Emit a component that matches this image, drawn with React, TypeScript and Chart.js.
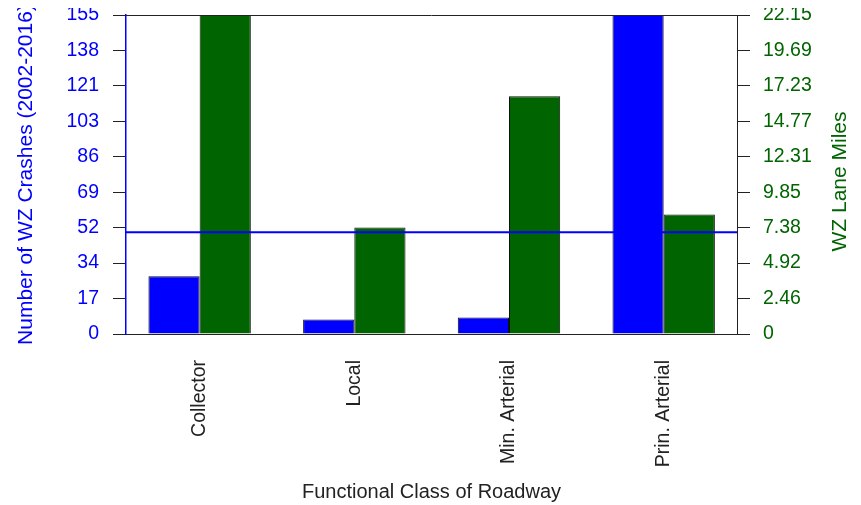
import { useEffect, useRef } from "react";
import { Chart, registerables } from "chart.js";

Chart.register(...registerables);

const CATEGORIES = ["Collector", "Local", "Min. Arterial", "Prin. Arterial"];
const CRASHES = [28, 7, 8, 155];
const LANE_MILES = [22.15, 7.4, 16.5, 8.3];
const MEAN_CRASHES = 49.5;
const CRASH_MAX = 155;
const MILES_MAX = 22.15;
const CRASH_TICKS = ["0", "17", "34", "52", "69", "86", "103", "121", "138", "155"];
const MILES_TICKS = ["0", "2.46", "4.92", "7.38", "9.85", "12.31", "14.77", "17.23", "19.69", "22.15"];
const X_TITLE = "Functional Class of Roadway";
const Y_LEFT_TITLE = "Number of WZ Crashes (2002-2016)";
const Y_RIGHT_TITLE = "WZ Lane Miles";

const FONT = '"Liberation Sans", Arial, sans-serif';
const BLUE = "#0000FF";
const GREEN = "#006400";
const DARK = "#222222";

const extrasPlugin = {
  id: "extras",
  afterLayout(chart: any) {
    const xs = chart.scales.x;
    if (xs) {
      xs._startValue = -0.476;
      xs._valueRange = 3.95;
    }
  },
  afterDatasetsDraw(chart: any) {
    const { ctx, chartArea } = chart;
    const ys = chart.scales.y;
    ctx.save();
    ctx.strokeStyle = DARK;
    ctx.lineWidth = 1;
    ctx.beginPath();
    ctx.moveTo(chartArea.left, chartArea.top + 0.5);
    ctx.lineTo(chartArea.right, chartArea.top + 0.5);
    ctx.stroke();
    const y = ys.getPixelForValue(MEAN_CRASHES);
    ctx.strokeStyle = BLUE;
    ctx.lineWidth = 2;
    ctx.beginPath();
    ctx.moveTo(chartArea.left, y);
    ctx.lineTo(chartArea.right, y);
    ctx.stroke();
    ctx.restore();
  },
  afterDraw(chart: any) {
    const { ctx, chartArea } = chart;
    ctx.save();
    ctx.font = `21px ${FONT}`;
    ctx.fillStyle = GREEN;
    ctx.translate(chart.width - 12.5, (chartArea.top + chartArea.bottom) / 2 + 7);
    ctx.rotate(-Math.PI / 2);
    ctx.textAlign = "center";
    ctx.textBaseline = "middle";
    ctx.fillText(Y_RIGHT_TITLE, 0, 0);
    ctx.restore();
  },
};

export default function App() {
  const ref = useRef<HTMLCanvasElement>(null);

  useEffect(() => {
    if (!ref.current) return;
    const tickFont = { family: FONT, size: 19.5 };
    const chart = new Chart(ref.current, {
      type: "bar",
      data: {
        labels: CATEGORIES,
        datasets: [
          {
            label: "WZ Crashes",
            data: CRASHES,
            yAxisID: "y",
            backgroundColor: BLUE,
            borderColor: "#111111",
            borderWidth: 1,
            categoryPercentage: 0.662,
            barPercentage: 1,
          },
          {
            label: "WZ Lane Miles",
            data: LANE_MILES,
            yAxisID: "y1",
            backgroundColor: GREEN,
            borderColor: "#111111",
            borderWidth: 1,
            categoryPercentage: 0.662,
            barPercentage: 1,
          },
        ],
      },
      options: {
        responsive: false,
        animation: false,
        layout: { padding: { top: 15, left: 0, right: 0, bottom: 0 } },
        plugins: {
          legend: { display: false },
          tooltip: { enabled: false },
        },
        scales: {
          x: {
            type: "category",
            offset: true,
            grid: { display: true, drawOnChartArea: false, drawTicks: false },
            border: { display: true, color: DARK, width: 1 },
            ticks: {
              autoSkip: false,
              minRotation: 90,
              maxRotation: 90,
              padding: 26,
              color: DARK,
              font: tickFont,
            },
            title: {
              display: true,
              text: X_TITLE,
              color: DARK,
              font: { family: FONT, size: 20 },
              padding: { top: 0, bottom: 1 },
            },
            afterFit: (s: any) => {
              s.height = 171;
              s.paddingLeft = 0;
              s.paddingRight = 0;
            },
          },
          y: {
            type: "linear",
            position: "left",
            min: 0,
            max: CRASH_MAX,
            afterBuildTicks: (s: any) => {
              s.ticks = CRASH_TICKS.map((_, k) => ({ value: (CRASH_MAX * k) / (CRASH_TICKS.length - 1) }));
            },
            ticks: {
              callback: (_v: any, i: number) => CRASH_TICKS[i],
              color: BLUE,
              font: tickFont,
              padding: 14,
            },
            grid: { drawOnChartArea: false, drawTicks: true, tickLength: 13, tickColor: DARK },
            border: { display: true, color: BLUE, width: 1.5 },
            title: {
              display: true,
              text: Y_LEFT_TITLE,
              color: BLUE,
              font: { family: FONT, size: 21 },
              padding: { top: 6, bottom: 0 },
            },
            afterFit: (s: any) => {
              s.width = 118;
              s.paddingTop = 0;
              s.paddingBottom = 0;
            },
          },
          y1: {
            type: "linear",
            position: "right",
            min: 0,
            max: MILES_MAX,
            afterBuildTicks: (s: any) => {
              s.ticks = MILES_TICKS.map((_, k) => ({ value: (MILES_MAX * k) / (MILES_TICKS.length - 1) }));
            },
            ticks: {
              callback: (_v: any, i: number) => MILES_TICKS[i],
              color: GREEN,
              font: tickFont,
              padding: 13,
            },
            grid: { drawOnChartArea: false, drawTicks: true, tickLength: 13, tickColor: DARK },
            border: { display: true, color: DARK, width: 1 },
            title: { display: false },
            afterFit: (s: any) => {
              s.width = 116;
              s.paddingTop = 0;
              s.paddingBottom = 0;
            },
          },
        },
      },
      plugins: [extrasPlugin],
    } as any);
    return () => chart.destroy();
  }, []);

  return (
    <div style={{ width: 845, height: 505, marginTop: -8 }}>
      <canvas ref={ref} width={845} height={505} style={{ display: "block" }} />
    </div>
  );
}
